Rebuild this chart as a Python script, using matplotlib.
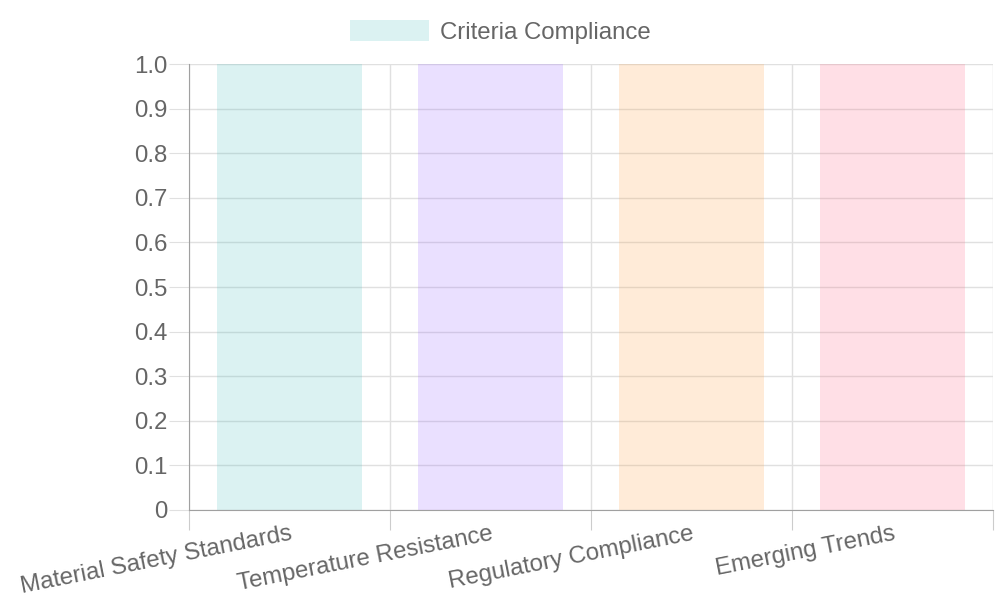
import matplotlib.pyplot as plt

plt.rcParams['font.family'] = ['Liberation Sans', 'DejaVu Sans']

categories = ['Material Safety Standards', 'Temperature Resistance',
              'Regulatory Compliance', 'Emerging Trends']
values = [1, 1, 1, 1]
series_name = 'Criteria Compliance'
yticks = [0, 0.1, 0.2, 0.3, 0.4, 0.5, 0.6, 0.7, 0.8, 0.9, 1.0]
ytick_labels = ['0', '0.1', '0.2', '0.3', '0.4', '0.5', '0.6', '0.7', '0.8', '0.9', '1.0']

colors = [(75/255, 192/255, 192/255, 0.2), (153/255, 102/255, 255/255, 0.2),
          (255/255, 159/255, 64/255, 0.2), (255/255, 99/255, 132/255, 0.2)]

FS = 17.3  # 24px
fig = plt.figure(figsize=(10, 6), dpi=100)
ax = fig.add_axes([0.189, 0.15, 0.804, 0.7433])

x = list(range(len(categories)))
bars = ax.bar(x, values, width=0.72, color=colors, linewidth=0, zorder=2,
              label=series_name)

ax.set_xlim(-0.5, len(categories) - 0.5)
ax.set_ylim(0, 1.0)
ax.set_yticks(yticks)
ax.set_yticklabels(ytick_labels)

# grid at category boundaries like chart.js offset grid
ax.set_xticks([i - 0.5 for i in range(len(categories) + 1)], minor=False)
ax.set_xticklabels([])
ax.set_xticks(x, minor=True)
ax.set_xticklabels(categories, minor=True, rotation=11.2, ha='right',
                   rotation_mode='anchor', fontsize=FS, color='#666666')
ax.tick_params(axis='x', which='minor', length=0, pad=9.5)
ax.tick_params(axis='x', which='major', length=14.4, color='#cccccc')
ax.tick_params(axis='y', length=14.4, color='#e0e0e0', labelsize=FS,
               labelcolor='#666666', pad=1)

ax.grid(True, which='major', color='#e0e0e0', linewidth=1, zorder=0)
ax.set_axisbelow(True)
ax.yaxis.get_major_ticks()[0].tick1line.set_color('#a0a0a0')

for s in ['top', 'right']:
    ax.spines[s].set_visible(False)
ax.spines['left'].set_color('#a0a0a0')
ax.spines['bottom'].set_color('#a0a0a0')

leg = fig.legend(handles=[bars[0]], labels=[series_name], loc='center',
                 bbox_to_anchor=(0.5, 1 - 32 / 600), frameon=False, fontsize=FS,
                 handlelength=3.3, handleheight=0.92, handletextpad=0.45,
                 labelcolor='#666666', borderpad=0)

fig.savefig('out.png', dpi=100)
